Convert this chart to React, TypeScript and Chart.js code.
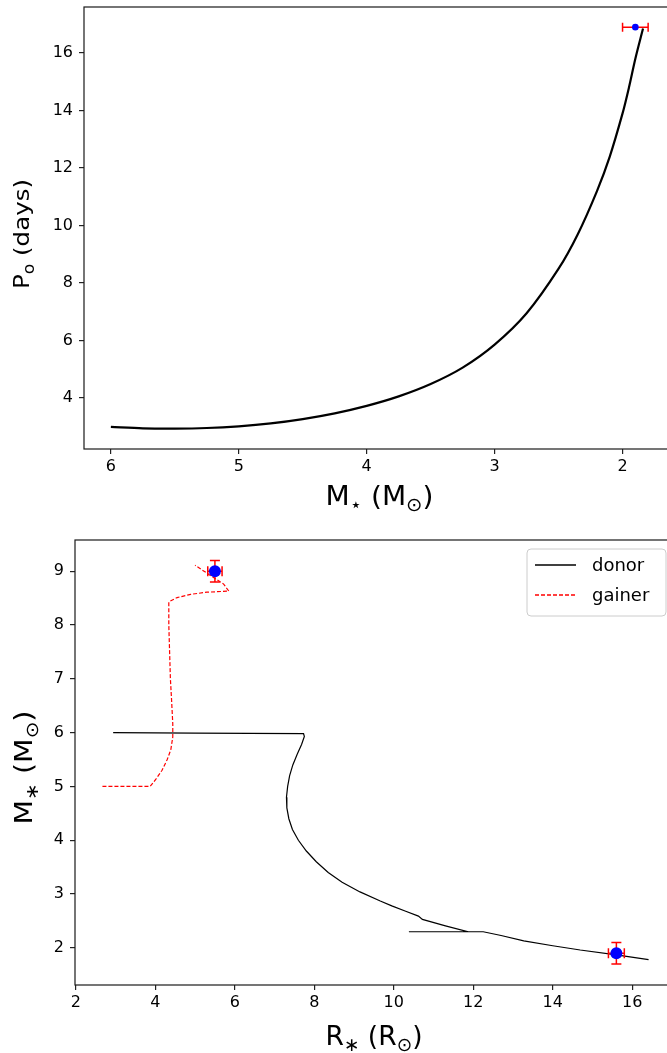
import React, { useEffect, useRef } from "react";
import { Chart, registerables } from "chart.js";

Chart.register(...registerables);

const FONT = '"DejaVu Sans", "Liberation Sans", sans-serif';

// ---- Top chart: orbital period vs donor mass ----
const TOP_MASS = [6.0, 5.75, 5.5, 5.25, 5.0, 4.75, 4.5, 4.25, 4.0, 3.75, 3.5, 3.25, 3.0, 2.75, 2.5, 2.35, 2.2, 2.1, 2.0, 1.95, 1.9, 1.84];
const TOP_PERIOD = [3.0, 2.95, 2.94, 2.96, 3.02, 3.12, 3.27, 3.47, 3.73, 4.06, 4.49, 5.06, 5.86, 6.95, 8.5, 9.7, 11.2, 12.4, 13.9, 14.8, 15.8, 16.85];
const TOP_OBS_X = [1.9];
const TOP_OBS_Y = [16.9];
const TOP_OBS_XERR = [0.1];
const TOP_OBS_YERR = [0];
const TOP_XTICKS = [6, 5, 4, 3, 2];
const TOP_YTICKS = [4, 6, 8, 10, 12, 14, 16];
const TOP_X_TITLE: [string, number][] = [["M", 0], ["\u22C6", 1], [" (M", 0], ["\u2299", 1], [")", 0]];
const TOP_Y_TITLE: [string, number][] = [["P", 0], ["o", 1], [" (days)", 0]];

// ---- Bottom chart: mass vs radius ----
const DONOR_R = [2.94, 5.0, 7.73, 7.75, 7.68, 7.57, 7.46, 7.38, 7.33, 7.30, 7.31, 7.36, 7.45, 7.6, 7.8, 8.05, 8.35, 8.7, 9.15, 9.66, 9.95, 10.3, 10.62, 10.72, 11.3, 11.86, 10.38, 12.25, 12.7, 13.27, 14.0, 14.69, 15.6, 16.41];
const DONOR_M = [6.0, 5.99, 5.98, 5.93, 5.78, 5.6, 5.4, 5.2, 5.0, 4.8, 4.6, 4.4, 4.2, 4.0, 3.8, 3.6, 3.4, 3.22, 3.04, 2.87, 2.78, 2.68, 2.59, 2.53, 2.41, 2.30, 2.30, 2.30, 2.23, 2.13, 2.04, 1.96, 1.87, 1.78];
const GAINER_R = [2.67, 3.87, 4.02, 4.17, 4.3, 4.39, 4.44, 4.44, 4.41, 4.38, 4.36, 4.34, 4.34, 4.55, 4.89, 5.3, 5.85, 5.72, 5.0];
const GAINER_M = [5.0, 5.0, 5.14, 5.3, 5.5, 5.68, 5.92, 6.16, 6.6, 7.0, 7.5, 8.0, 8.43, 8.51, 8.57, 8.61, 8.63, 8.76, 9.11];
const OBS_R = [5.5, 15.6];
const OBS_M = [9.0, 1.9];
const OBS_RERR = [0.18, 0.2];
const OBS_MERR = [0.2, 0.2];
const BOT_XTICKS = [2, 4, 6, 8, 10, 12, 14, 16];
const BOT_YTICKS = [2, 3, 4, 5, 6, 7, 8, 9];
const LEGEND_LABELS = ["donor", "gainer"];
const BOT_X_TITLE: [string, number][] = [["R", 0], ["\u2217", 1], [" (R", 0], ["\u2299", 1], [")", 0]];
const BOT_Y_TITLE: [string, number][] = [["M", 0], ["\u2217", 1], [" (M", 0], ["\u2299", 1], [")", 0]];

function zip(xs: number[], ys: number[]) {
  return xs.map((x, i) => ({ x, y: ys[i] }));
}

function drawRich(ctx: CanvasRenderingContext2D, parts: [string, number][], cx: number, cy: number, size: number, targetLen: number, rotate: boolean) {
  ctx.save();
  ctx.translate(cx, cy);
  if (rotate) ctx.rotate(-Math.PI / 2);
  ctx.fillStyle = "#000";
  ctx.textBaseline = "alphabetic";
  ctx.textAlign = "left";
  const widths: number[] = [];
  let total = 0;
  parts.forEach(([t, sub]) => {
    ctx.font = `${sub ? size * 0.7 : size}px ${FONT}`;
    const w = ctx.measureText(t).width;
    widths.push(w);
    total += w;
  });
  const sx = targetLen ? targetLen / total : 1;
  ctx.scale(sx, 1);
  let x = -total / 2;
  parts.forEach(([t, sub], i) => {
    ctx.font = `${sub ? size * 0.7 : size}px ${FONT}`;
    ctx.fillText(t, x, sub ? size * 0.22 : 0);
    x += widths[i];
  });
  ctx.restore();
}

function errPlugin(xs: number[], ys: number[], xe: number[], ye: number[], cap: number) {
  return {
    id: "errbars",
    beforeDatasetDraw(chart: any, args: any) {
      if (args.index !== 0) return;
      const ctx = chart.ctx;
      const sx = chart.scales.x;
      const sy = chart.scales.y;
      ctx.save();
      ctx.strokeStyle = "#ff0000";
      ctx.lineWidth = 1.5;
      xs.forEach((xv, i) => {
        const px = sx.getPixelForValue(xv);
        const py = sy.getPixelForValue(ys[i]);
        if (xe[i]) {
          const a = sx.getPixelForValue(xv - xe[i]);
          const b = sx.getPixelForValue(xv + xe[i]);
          ctx.beginPath();
          ctx.moveTo(a, py); ctx.lineTo(b, py);
          ctx.moveTo(a, py - cap); ctx.lineTo(a, py + cap);
          ctx.moveTo(b, py - cap); ctx.lineTo(b, py + cap);
          ctx.stroke();
        }
        if (ye[i]) {
          const a = sy.getPixelForValue(ys[i] - ye[i]);
          const b = sy.getPixelForValue(ys[i] + ye[i]);
          ctx.beginPath();
          ctx.moveTo(px, a); ctx.lineTo(px, b);
          ctx.moveTo(px - cap, a); ctx.lineTo(px + cap, a);
          ctx.moveTo(px - cap, b); ctx.lineTo(px + cap, b);
          ctx.stroke();
        }
      });
      ctx.restore();
    },
  };
}

function framePlugin(titles: { parts: [string, number][]; size: number; len: number; x: (a: any) => number; y: (a: any) => number; rot: boolean }[], legend: boolean) {
  return {
    id: "frame",
    afterDraw(chart: any) {
      const ctx = chart.ctx;
      const a = chart.chartArea;
      ctx.save();
      ctx.strokeStyle = "#1a1a1a";
      ctx.lineWidth = 1.2;
      ctx.strokeRect(a.left, a.top, a.right - a.left, a.bottom - a.top);
      ctx.restore();
      titles.forEach((t) => drawRich(ctx, t.parts, t.x(a), t.y(a), t.size, t.len, t.rot));
      if (legend) {
        ctx.save();
        const bx = 527, by = 29, bw = 139, bh = 67, r = 4;
        ctx.beginPath();
        ctx.moveTo(bx + r, by);
        ctx.arcTo(bx + bw, by, bx + bw, by + bh, r);
        ctx.arcTo(bx + bw, by + bh, bx, by + bh, r);
        ctx.arcTo(bx, by + bh, bx, by, r);
        ctx.arcTo(bx, by, bx + bw, by, r);
        ctx.closePath();
        ctx.fillStyle = "rgba(255,255,255,0.8)";
        ctx.fill();
        ctx.strokeStyle = "#cccccc";
        ctx.lineWidth = 1;
        ctx.stroke();
        const rows = [45, 75];
        const styles = [
          { c: "#000000", d: [] as number[], w: 1.3 },
          { c: "#ff0000", d: [4, 2], w: 1.3 },
        ];
        LEGEND_LABELS.forEach((lab, i) => {
          ctx.beginPath();
          ctx.strokeStyle = styles[i].c;
          ctx.lineWidth = styles[i].w;
          ctx.setLineDash(styles[i].d);
          ctx.moveTo(535, rows[i]);
          ctx.lineTo(576, rows[i]);
          ctx.stroke();
          ctx.setLineDash([]);
          ctx.fillStyle = "#000";
          ctx.font = `18px ${FONT}`;
          ctx.textBaseline = "middle";
          ctx.textAlign = "left";
          ctx.fillText(lab, 592, rows[i] + 1);
        });
        ctx.restore();
      }
    },
  };
}

function axisCommon(ticksArr: number[], fitKey: "width" | "height", fitVal: number, pad: number) {
  return {
    type: "linear" as const,
    afterBuildTicks: (s: any) => {
      s.ticks = ticksArr.map((v) => ({ value: v }));
    },
    afterFit: (s: any) => {
      s[fitKey] = fitVal;
      s.paddingTop = 0;
      s.paddingBottom = 0;
      s.paddingLeft = 0;
      s.paddingRight = 0;
    },
    grid: { drawOnChartArea: false, drawTicks: true, tickLength: 5, color: "#222", lineWidth: 1.2 },
    border: { display: false },
    ticks: { font: { family: FONT, size: 16 }, color: "#000", padding: pad, maxRotation: 0, autoSkip: false },
    title: { display: false },
  };
}

export default function App() {
  const topRef = useRef<HTMLCanvasElement>(null);
  const botRef = useRef<HTMLCanvasElement>(null);

  useEffect(() => {
    const c1 = new Chart(topRef.current!, {
      type: "scatter",
      data: {
        datasets: [
          { label: "obs", data: zip(TOP_OBS_X, TOP_OBS_Y), pointRadius: 3.3, backgroundColor: "#0000ff", borderWidth: 0, showLine: false } as any,
          { label: "track", data: zip(TOP_MASS, TOP_PERIOD), showLine: true, borderColor: "#000", borderWidth: 2.2, pointRadius: 0, tension: 0.3, fill: false } as any,
        ],
      },
      options: {
        responsive: false,
        animation: false,
        events: [],
        layout: { padding: { left: 0, top: 7, right: 25, bottom: 0 } },
        plugins: { legend: { display: false }, tooltip: { enabled: false } },
        scales: {
          x: { ...axisCommon(TOP_XTICKS, "height", 71, 3), reverse: true, min: 1.59, max: 6.21 },
          y: { ...axisCommon(TOP_YTICKS, "width", 84, 6), min: 2.23, max: 17.6 },
        } as any,
      },
      plugins: [
        errPlugin(TOP_OBS_X, TOP_OBS_Y, TOP_OBS_XERR, TOP_OBS_YERR, 4.5),
        framePlugin(
          [
            { parts: TOP_X_TITLE, size: 27, len: 108, x: (a) => (a.left + a.right) / 2, y: () => 505, rot: false },
            { parts: TOP_Y_TITLE, size: 22, len: 110, x: () => 29, y: (a) => (a.top + a.bottom) / 2 + 6, rot: true },
          ],
          false
        ),
      ],
    });

    const c2 = new Chart(botRef.current!, {
      type: "scatter",
      data: {
        datasets: [
          { label: "obs", data: zip(OBS_R, OBS_M), pointRadius: 6, backgroundColor: "#0000ff", borderWidth: 0, showLine: false } as any,
          { label: "gainer", data: zip(GAINER_R, GAINER_M), showLine: true, borderColor: "#ff0000", borderWidth: 1.2, borderDash: [4, 2], pointRadius: 0, tension: 0, fill: false } as any,
          { label: "donor", data: zip(DONOR_R, DONOR_M), showLine: true, borderColor: "#000", borderWidth: 1.2, pointRadius: 0, tension: 0, fill: false } as any,
        ],
      },
      options: {
        responsive: false,
        animation: false,
        events: [],
        layout: { padding: { left: 0, top: 20, right: 24, bottom: 0 } },
        plugins: { legend: { display: false }, tooltip: { enabled: false } },
        scales: {
          x: { ...axisCommon(BOT_XTICKS, "height", 68, 3), min: 1.98, max: 17.1 },
          y: { ...axisCommon(BOT_YTICKS, "width", 75, 6), min: 1.31, max: 9.58 },
        } as any,
      },
      plugins: [
        errPlugin(OBS_R, OBS_M, OBS_RERR, OBS_MERR, 5),
        framePlugin(
          [
            { parts: BOT_X_TITLE, size: 27, len: 97, x: () => 374, y: () => 525, rot: false },
            { parts: BOT_Y_TITLE, size: 25, len: 114, x: () => 32, y: () => 247.5, rot: true },
          ],
          true
        ),
      ],
    });

    return () => {
      c1.destroy();
      c2.destroy();
    };
  }, []);

  return (
    <div style={{ position: "fixed", left: 0, top: 0, width: 667, height: 1053, overflow: "hidden", background: "#fff" }}>
      <canvas ref={topRef} width={700} height={520} style={{ position: "absolute", left: 0, top: 0, display: "block" }} />
      <canvas ref={botRef} width={700} height={533} style={{ position: "absolute", left: 0, top: 520, display: "block" }} />
    </div>
  );
}
